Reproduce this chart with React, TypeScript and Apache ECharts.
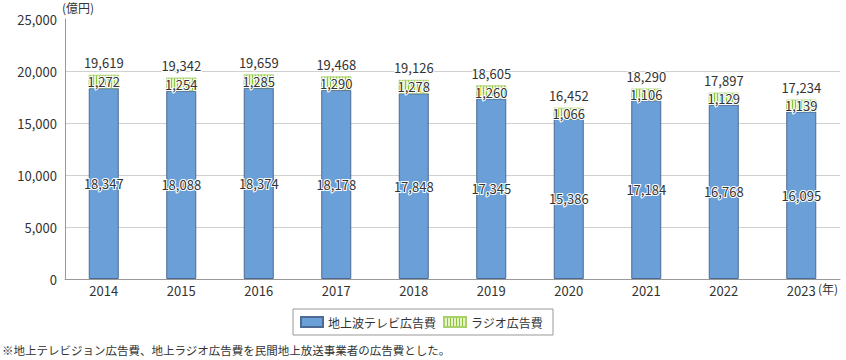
import React, { useEffect, useRef } from "react";
import * as echarts from "echarts";

const years = ["2014", "2015", "2016", "2017", "2018", "2019", "2020", "2021", "2022", "2023"];
const tvValues = [18347, 18088, 18374, 18178, 17848, 17345, 15386, 17184, 16768, 16095];
const radioValues = [1272, 1254, 1285, 1290, 1278, 1260, 1066, 1106, 1129, 1139];
const totals = [19619, 19342, 19659, 19468, 19126, 18605, 16452, 18290, 17897, 17234];
const yTicks = [0, 5000, 10000, 15000, 20000, 25000];

const FONT = '"Noto Sans CJK JP", "Noto Sans", sans-serif';
const fmt = (v: number) => v.toLocaleString("en-US");

export default function App() {
  const ref = useRef<HTMLDivElement>(null);
  useEffect(() => {
    if (!ref.current) return;
    const chart = echarts.init(ref.current, null, { renderer: "svg" });
    const labelBase = {
      show: true,
      color: "#333",
      fontSize: 13,
      fontFamily: FONT,
      textBorderColor: "#fff",
      textBorderWidth: 2,
    };
    chart.setOption({
      animation: false,
      textStyle: { fontFamily: FONT },
      grid: { left: 65, top: 19, width: 775, height: 260, containLabel: false },
      legend: {
        left: 293,
        top: 309,
        orient: "horizontal",
        padding: [7, 10, 7, 7],
        borderColor: "#999",
        borderWidth: 1,
        icon: "rect",
        itemWidth: 22,
        itemHeight: 10,
        itemGap: 7,
        textStyle: { fontSize: 12, color: "#333", fontFamily: FONT },
        data: ["地上波テレビ広告費", "ラジオ広告費"],
      },
      xAxis: {
        type: "category",
        data: years,
        axisLine: { lineStyle: { color: "#999" } },
        axisTick: { inside: true, length: 5, lineStyle: { color: "#999" } },
        axisLabel: { color: "#333", fontSize: 13, margin: 5, fontFamily: FONT },
      },
      yAxis: {
        type: "value",
        min: yTicks[0],
        max: yTicks[yTicks.length - 1],
        interval: 5000,
        axisLine: { show: true, lineStyle: { color: "#999" } },
        axisTick: { show: false },
        splitLine: {
          lineStyle: { color: ["#d0d0d0", "#d0d0d0", "#d0d0d0", "#d0d0d0", "#d0d0d0", "rgba(0,0,0,0)"] },
        },
        axisLabel: {
          color: "#333",
          fontSize: 13,
          margin: 8,
          fontFamily: FONT,
          formatter: (v: number) => fmt(v),
        },
      },
      graphic: [
        { type: "text", left: 62, top: 1, style: { text: "(億円)", fontSize: 12, fill: "#333", fontFamily: FONT } },
        { type: "text", left: 818, top: 282, style: { text: "(年)", fontSize: 12, fill: "#333", fontFamily: FONT } },
        {
          type: "text",
          left: 2,
          top: 344,
          style: {
            text: "※地上テレビジョン広告費、地上ラジオ広告費を民間地上放送事業者の広告費とした。",
            fontSize: 11.5,
            fill: "#333",
            fontFamily: FONT,
          },
        },
      ],
      series: [
        {
          name: "地上波テレビ広告費",
          type: "bar",
          stack: "total",
          barWidth: 30,
          data: tvValues,
          itemStyle: { color: "#6a9fd8", borderColor: "#4d6a92", borderWidth: 1 },
          label: { ...labelBase, position: "inside", formatter: (p: any) => fmt(p.value) },
        },
        {
          name: "ラジオ広告費",
          type: "bar",
          stack: "total",
          barWidth: 30,
          data: radioValues,
          itemStyle: {
            color: "#e6f3c8",
            borderColor: "#a9d16a",
            borderWidth: 0.5,
            decal: {
              symbol: "rect",
              symbolSize: 1,
              color: "#8cc63f",
              dashArrayX: [1, 2],
              dashArrayY: [4, 0],
              rotation: 0,
            },
          },
          label: { ...labelBase, position: "inside", formatter: (p: any) => fmt(p.value) },
        },
        {
          name: "total",
          type: "bar",
          stack: "total",
          barWidth: 30,
          data: totals.map(() => 0),
          itemStyle: { color: "rgba(0,0,0,0)" },
          label: {
            ...labelBase,
            position: "top",
            distance: 6,
            formatter: (p: any) => fmt(totals[p.dataIndex]),
          },
        },
      ],
    });
    return () => chart.dispose();
  }, []);
  return <div ref={ref} style={{ width: 846, height: 360, position: "absolute", left: 0, top: 0 }} />;
}
